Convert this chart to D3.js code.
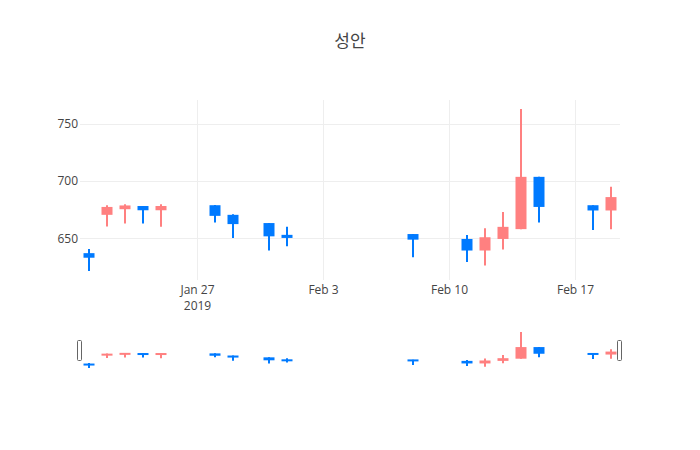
<!DOCTYPE html>
<html>
<head>
<meta charset="utf-8">
<script src="https://cdn.jsdelivr.net/npm/d3@7"></script>
<style>
  html, body { margin: 0; padding: 0; background: #fff; }
  svg { display: block; font-family: "Open Sans", "Noto Sans CJK KR", sans-serif; }
</style>
</head>
<body>
<svg id="chart" width="700" height="450"></svg>
<script>
const title = "성안";
const dates = ["2019-01-21","2019-01-22","2019-01-23","2019-01-24","2019-01-25",
  "2019-01-28","2019-01-29","2019-01-31","2019-02-01","2019-02-08",
  "2019-02-11","2019-02-12","2019-02-13","2019-02-14","2019-02-15",
  "2019-02-18","2019-02-19"];
const open  = [637, 670.5, 675.4, 678.2, 674.5, 678.9, 670.5, 663.3, 653, 653.7, 649.4, 639.3, 649.4, 658, 703.7, 678.9, 674.3];
const high  = [640.7, 678.9, 679.7, 678.2, 679.7, 679, 671, 663.3, 660, 653.7, 652.9, 658.7, 673, 763, 703.7, 678.9, 695];
const low   = [621.4, 660.4, 663, 663, 660, 663.9, 650.3, 639.3, 643, 633.5, 629.2, 626.3, 640.1, 658, 663.9, 657.2, 658];
const close = [633, 677.4, 678.7, 674.5, 678.2, 669.6, 662.4, 651.7, 650.3, 648.8, 639.3, 650.9, 660, 703.7, 677.4, 674.3, 686];
const yTicks = [650, 700, 750];
const incColor = "#ff8080";
const decColor = "#007aff";

const data = dates.map((d, i) => ({
  date: new Date(d + "T00:00:00Z"), open: open[i], high: high[i], low: low[i], close: close[i]
}));

const svg = d3.select("#chart");
const W = 700, H = 450;
const M = {l: 80, r: 80, t: 100};
const plotBottom = 280;
const sliderTop = 330, sliderBottom = 370;

const day = 864e5;
const xMin = d3.min(data, d => d.date), xMax = d3.max(data, d => d.date);
const x = d3.scaleUtc()
  .domain([new Date(+xMin - day / 2), new Date(+xMax + day / 2)])
  .range([M.l, W - M.r]);

const yMinD = d3.min(low), yMaxD = d3.max(high);
const padY = (yMaxD - yMinD) * 0.05 / 0.9;
const yDomain = [yMinD - padY, yMaxD + padY];
const y = d3.scaleLinear().domain(yDomain).range([plotBottom, M.t]);
const ys = d3.scaleLinear().domain(yDomain).range([sliderBottom, sliderTop]);

// title
svg.append("text")
  .attr("x", W / 2).attr("y", 47)
  .attr("text-anchor", "middle")
  .attr("font-size", 17).attr("fill", "#444")
  .attr("font-family", "'Noto Sans CJK KR', 'Open Sans', sans-serif")
  .text(title);

// grid
const xTicks = d3.utcWeek.range(x.domain()[0], x.domain()[1]);
const grid = svg.append("g");
grid.selectAll("line.h").data(yTicks).join("line")
  .attr("x1", M.l).attr("x2", W - M.r)
  .attr("y1", d => Math.round(y(d)) + 0.5).attr("y2", d => Math.round(y(d)) + 0.5)
  .attr("stroke", "#eee").attr("stroke-width", 1);
grid.selectAll("line.v").data(xTicks).join("line")
  .attr("y1", M.t).attr("y2", plotBottom)
  .attr("x1", d => Math.round(x(d)) + 0.5).attr("x2", d => Math.round(x(d)) + 0.5)
  .attr("stroke", "#eee").attr("stroke-width", 1);

// y axis labels
const yAxis = d3.axisLeft(y).tickValues(yTicks).tickSize(0).tickPadding(2);
const gy = svg.append("g").attr("transform", `translate(${M.l},0)`).call(yAxis);
gy.select(".domain").remove();
gy.selectAll("text").attr("font-size", 12).attr("fill", "#444").attr("font-family", "'Open Sans', sans-serif");

// x axis labels
const fmt = d3.utcFormat("%b %-d");
const xAxis = d3.axisBottom(x).tickValues(xTicks).tickSize(0).tickPadding(0).tickFormat(() => "");
const gx = svg.append("g").attr("transform", `translate(0,${plotBottom})`).call(xAxis);
gx.select(".domain").remove();
gx.selectAll(".tick text").remove();
gx.selectAll(".tick").each(function(d, i) {
  const t = d3.select(this).append("text")
    .attr("text-anchor", "middle").attr("font-size", 12).attr("fill", "#444")
    .attr("font-family", "'Open Sans', sans-serif")
    .attr("y", 14.3);
  t.append("tspan").attr("x", 0).text(fmt(d));
  if (i === 0) t.append("tspan").attr("x", 0).attr("dy", 15.6).text(d3.utcFormat("%Y")(d));
});

function drawCandles(g, yScale) {
  const bodyW = 11;
  const c = g.selectAll("g.c").data(data).join("g").attr("class", "c");
  c.append("line")
    .attr("x1", d => x(d.date)).attr("x2", d => x(d.date))
    .attr("y1", d => yScale(d.high)).attr("y2", d => yScale(d.low))
    .attr("stroke", d => d.close >= d.open ? incColor : decColor)
    .attr("stroke-width", 2);
  c.append("rect")
    .attr("x", d => x(d.date) - bodyW / 2)
    .attr("width", bodyW)
    .attr("y", d => {
      const t = yScale(Math.max(d.open, d.close)), b = yScale(Math.min(d.open, d.close));
      return (b - t) < 2 ? (t + b) / 2 - 1 : t;
    })
    .attr("height", d => Math.max(2, yScale(Math.min(d.open, d.close)) - yScale(Math.max(d.open, d.close))))
    .attr("fill", d => d.close >= d.open ? incColor : decColor);
}

// main plot
svg.append("clipPath").attr("id", "clipMain").append("rect")
  .attr("x", M.l).attr("y", M.t).attr("width", W - M.l - M.r).attr("height", plotBottom - M.t);
drawCandles(svg.append("g").attr("clip-path", "url(#clipMain)"), y);

// range slider
svg.append("rect").attr("x", M.l).attr("y", sliderTop)
  .attr("width", W - M.l - M.r).attr("height", sliderBottom - sliderTop).attr("fill", "#fff");
svg.append("clipPath").attr("id", "clipSlider").append("rect")
  .attr("x", M.l).attr("y", sliderTop).attr("width", W - M.l - M.r).attr("height", sliderBottom - sliderTop);
drawCandles(svg.append("g").attr("clip-path", "url(#clipSlider)"), ys);

const hh = (sliderBottom - sliderTop) / 2;
[x.range()[0], x.range()[1]].forEach(px => {
  svg.append("rect")
    .attr("x", px - 2.5).attr("y", sliderTop + hh / 2 + 0.5)
    .attr("width", 4).attr("height", hh)
    .attr("rx", 1).attr("ry", 1)
    .attr("fill", "#fff").attr("stroke", "#666").attr("stroke-width", 1);
});
</script>
</body>
</html>
